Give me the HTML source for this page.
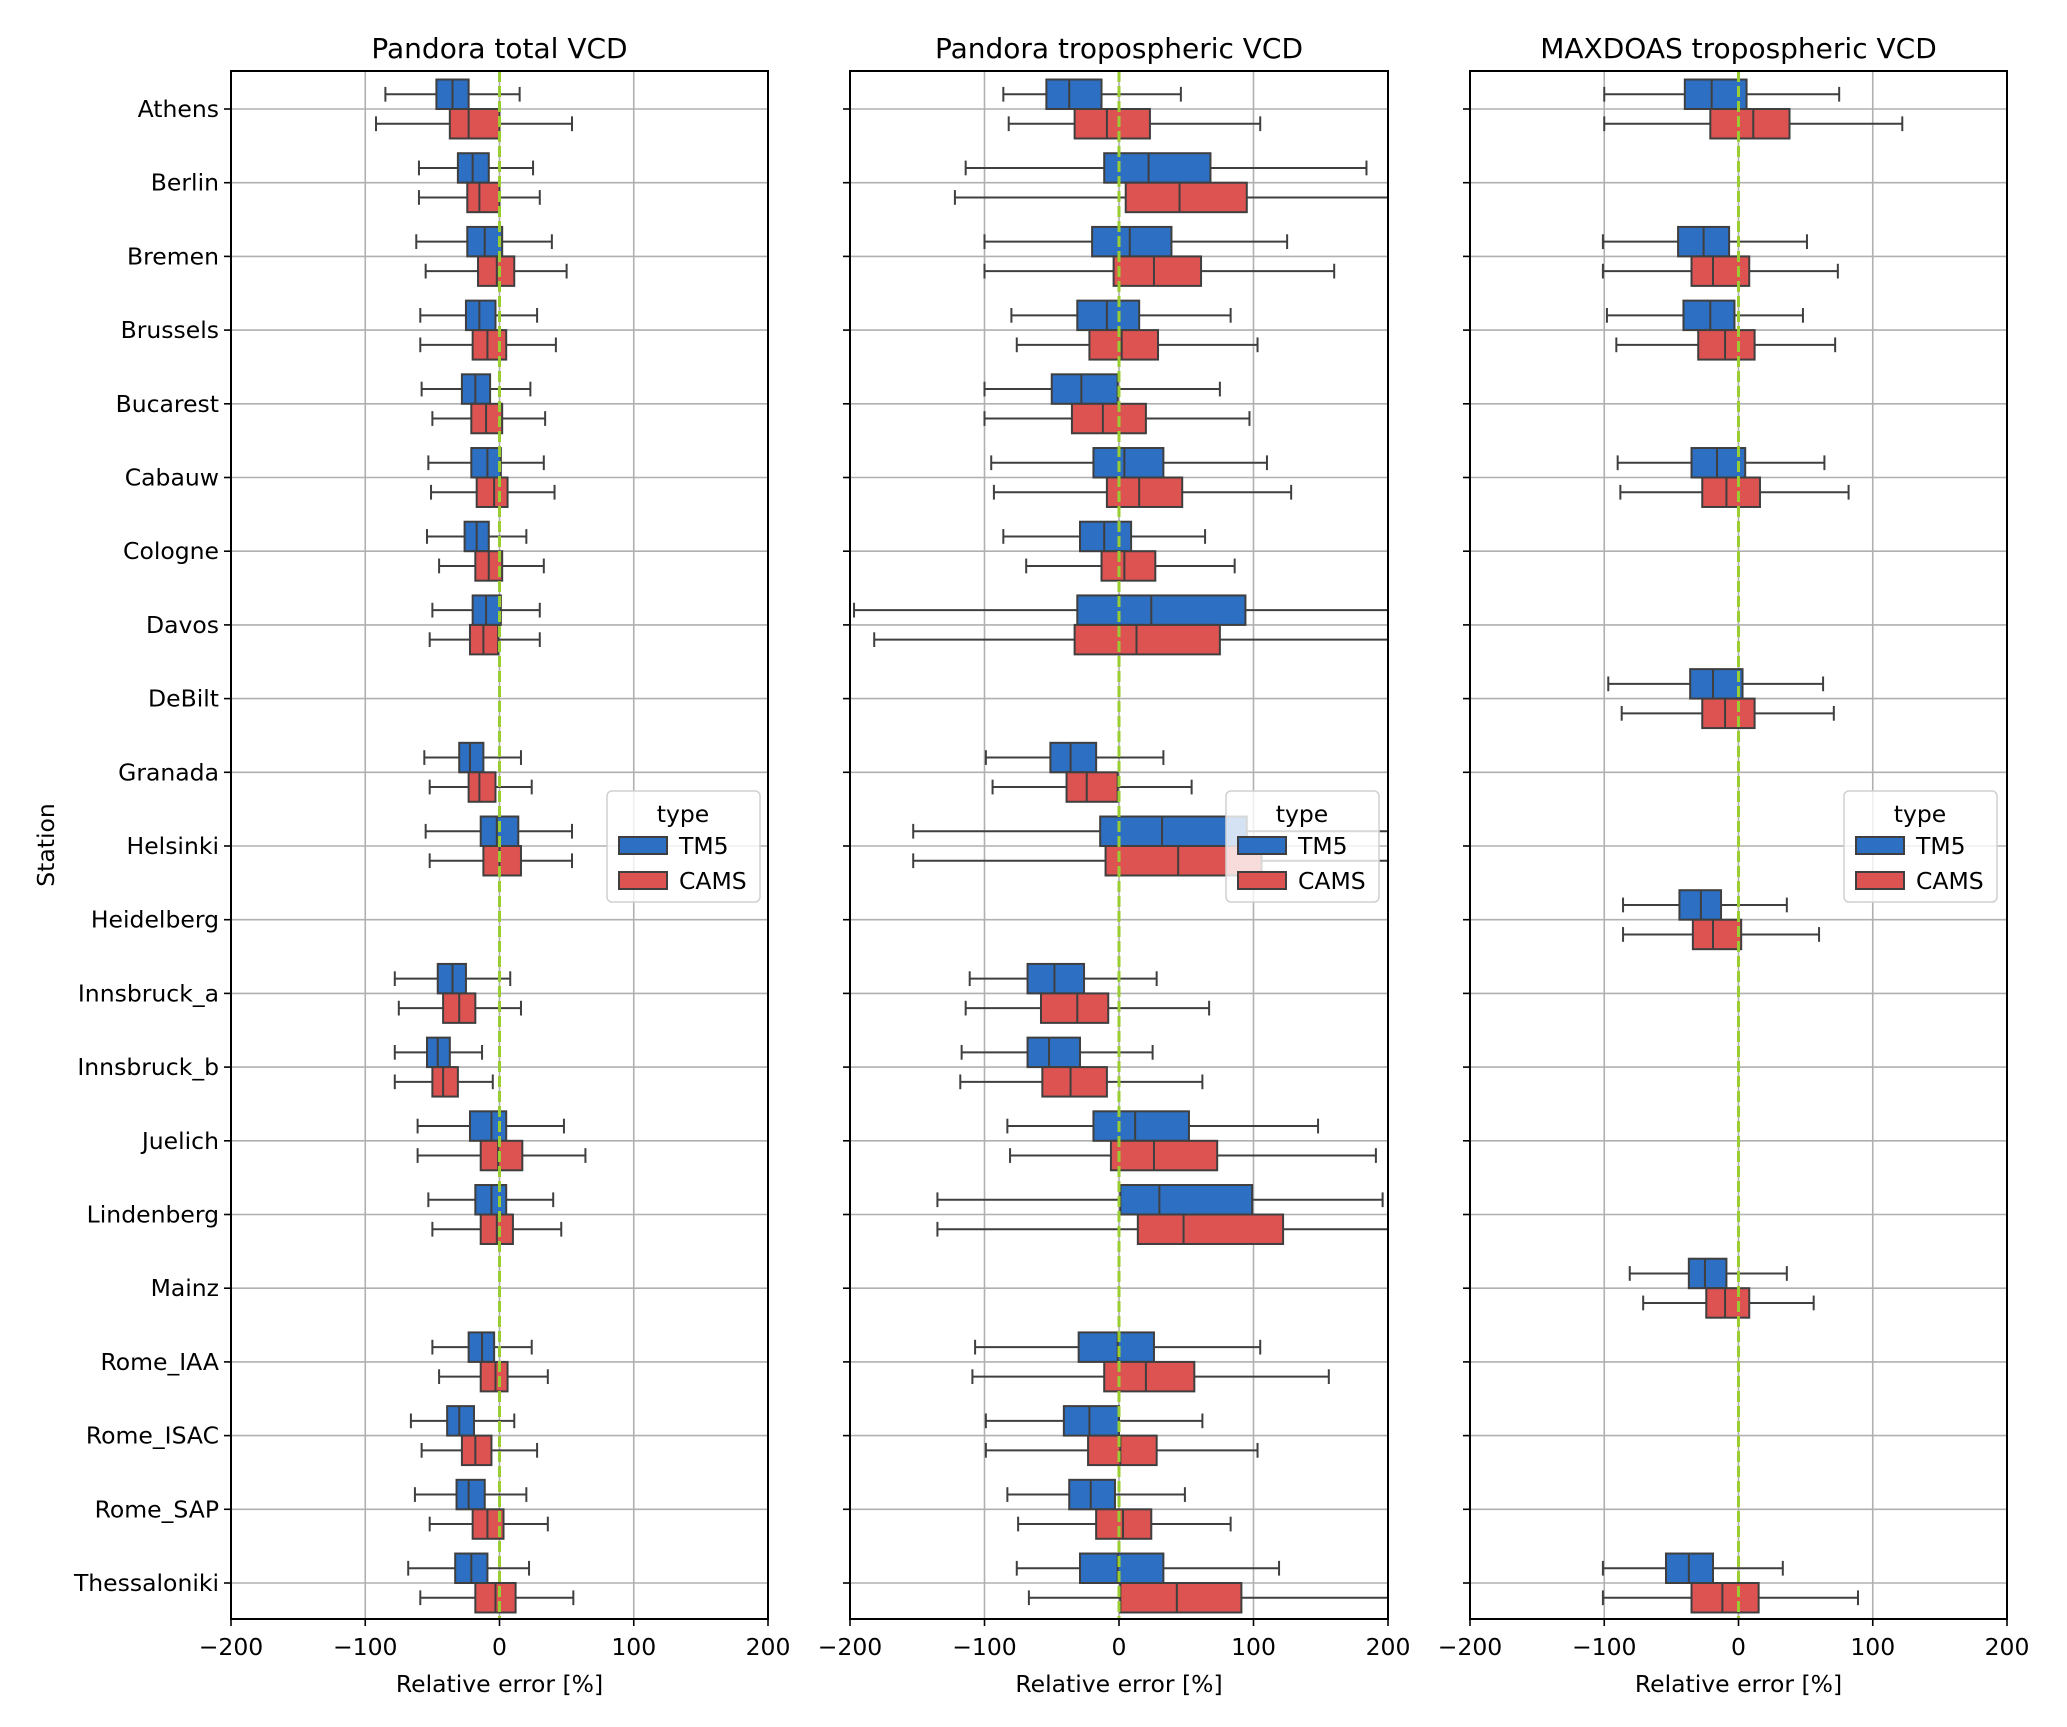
<!DOCTYPE html>
<html><head><meta charset="utf-8"><style>
html,body{margin:0;padding:0;background:#fff;}
svg{display:block;font-family:"DejaVu Sans","Liberation Sans",sans-serif;}
</style></head><body>
<svg id="chart" width="2067" height="1727" viewBox="0 0 2067 1727" xmlns="http://www.w3.org/2000/svg"></svg>
<script>
const stations=["Athens","Berlin","Bremen","Brussels","Bucarest","Cabauw","Cologne","Davos","DeBilt","Granada","Helsinki","Heidelberg","Innsbruck_a","Innsbruck_b","Juelich","Lindenberg","Mainz","Rome_IAA","Rome_ISAC","Rome_SAP","Thessaloniki"];
const panelTitles=["Pandora total VCD","Pandora tropospheric VCD","MAXDOAS tropospheric VCD"];
const xTicks=[-200,-100,0,100,200];
const xTickLabels=["\u2212200","\u2212100","0","100","200"];
// [whiskerLow, q1, median, q3, whiskerHigh]
const p1TM5=[[-85,-47,-35,-23,15],[-60,-31,-20,-8,25],[-62,-24,-11,2,39],[-59,-25,-15,-3,28],[-58,-28,-18,-7,23],[-53,-21,-9,1,33],[-54,-26,-17,-8,20],[-50,-20,-10,1,30],null,[-56,-30,-22,-12,16],[-55,-14,-2,14,54],null,[-78,-46,-35,-25,8],[-78,-54,-46,-37,-13],[-61,-22,-6,5,48],[-53,-18,-6,5,40],null,[-50,-23,-13,-4,24],[-66,-39,-30,-19,11],[-63,-32,-23,-11,20],[-68,-33,-21,-9,22]];
const p1CAMS=[[-92,-37,-23,0,54],[-60,-24,-15,0,30],[-55,-16,-2,11,50],[-59,-20,-9,5,42],[-50,-21,-10,2,34],[-51,-17,-4,6,41],[-45,-18,-8,2,33],[-52,-22,-12,-1,30],null,[-52,-23,-15,-3,24],[-52,-12,0,16,54],null,[-75,-42,-30,-18,16],[-78,-50,-42,-31,-5],[-61,-14,-1,17,64],[-50,-14,-2,10,46],null,[-45,-14,-3,6,36],[-58,-28,-18,-6,28],[-52,-20,-9,3,36],[-59,-18,-3,12,55]];
const p2TM5=[[-86,-54,-37,-13,46],[-114,-11,22,68,184],[-100,-20,8,39,125],[-80,-31,-9,15,83],[-100,-50,-28,-1,75],[-95,-19,4,33,110],[-86,-29,-11,9,64],[-197,-31,24,94,220],null,[-99,-51,-36,-17,33],[-153,-14,32,95,230],null,[-111,-68,-48,-26,28],[-117,-68,-52,-29,25],[-83,-19,12,52,148],[-135,1,30,99,196],null,[-107,-30,-1,26,105],[-99,-41,-22,0,62],[-83,-37,-21,-3,49],[-76,-29,-1,33,119]];
const p2CAMS=[[-82,-33,-9,23,105],[-122,5,45,95,210],[-100,-4,26,61,160],[-76,-22,2,29,103],[-100,-35,-12,20,97],[-93,-9,15,47,128],[-69,-13,4,27,86],[-182,-33,13,75,230],null,[-94,-39,-24,-1,54],[-153,-10,44,106,230],null,[-114,-58,-31,-8,67],[-118,-57,-36,-9,62],[-81,-6,26,73,191],[-135,14,48,122,240],null,[-109,-11,20,56,156],[-99,-23,1,28,103],[-75,-17,3,24,83],[-67,1,43,91,240]];
const p3TM5=[[-100,-40,-20,6,75],null,[-101,-45,-26,-7,51],[-98,-41,-21,-3,48],null,[-90,-35,-16,5,64],null,null,[-97,-36,-19,3,63],null,null,[-86,-44,-28,-13,36],null,null,null,null,[-81,-37,-25,-9,36],null,null,null,[-101,-54,-37,-19,33]];
const p3CAMS=[[-100,-21,11,38,122],null,[-101,-35,-19,8,74],[-91,-30,-10,12,72],null,[-88,-27,-9,16,82],null,null,[-87,-27,-10,12,71],null,null,[-86,-34,-19,2,60],null,null,null,null,[-71,-24,-10,8,56],null,null,null,[-101,-35,-12,15,89]];
const seriesNames=["TM5","CAMS"];

const NS="http://www.w3.org/2000/svg";
const svg=document.getElementById('chart');
const colors=["#2d6fc2","#dc5352"];
const edge="#3f3f3f";
const panels=[{x0:231,x1:768,tm:p1TM5,cams:p1CAMS,legX:607},{x0:850,x1:1388,tm:p2TM5,cams:p2CAMS,legX:1226},{x0:1470,x1:2007,tm:p3TM5,cams:p3CAMS,legX:1844}];
const yTop=71,yBot=1619;
const catY0=109,catStep=(1583-109)/20;
function yScale(i){return catY0+i*catStep;}
function mk(tag,attrs,parent){const e=document.createElementNS(NS,tag);for(const k in attrs)e.setAttribute(k,attrs[k]);(parent||svg).appendChild(e);return e;}

const defs=mk('defs',{});
panels.forEach((p,pi)=>{
  const xs=v=>p.x0+(v+200)/400*(p.x1-p.x0);
  const g=mk('g',{});
  
  
  const cp=mk('clipPath',{id:'clip'+pi},defs);
  mk('rect',{x:p.x0,y:yTop,width:p.x1-p.x0,height:yBot-yTop},cp);
  xTicks.forEach(t=>{const l=mk('line',{x1:xs(t),x2:xs(t),y1:yTop,y2:yBot,stroke:'#b0b0b0','stroke-width':1.6},g);
    });
  stations.forEach((s,i)=>{const l=mk('line',{x1:p.x0,x2:p.x1,y1:yScale(i),y2:yScale(i),stroke:'#b0b0b0','stroke-width':1.6},g);
    });
  const bg=mk('g',{'clip-path':'url(#clip'+pi+')'},g);
  [p.tm,p.cams].forEach((ser,si)=>{
    ser.forEach((d,i)=>{
      if(!d)return;
      const yc=yScale(i)+(si===0?-0.2:0.2)*catStep;
      const h=0.4*catStep;
      const bx=mk('g',{},bg);
      
      
      mk('line',{x1:xs(d[0]),x2:xs(d[1]),y1:yc,y2:yc,stroke:edge,'stroke-width':2},bx);
      mk('line',{x1:xs(d[3]),x2:xs(d[4]),y1:yc,y2:yc,stroke:edge,'stroke-width':2},bx);
      mk('line',{x1:xs(d[0]),x2:xs(d[0]),y1:yc-h/4,y2:yc+h/4,stroke:edge,'stroke-width':2},bx);
      mk('line',{x1:xs(d[4]),x2:xs(d[4]),y1:yc-h/4,y2:yc+h/4,stroke:edge,'stroke-width':2},bx);
      mk('rect',{x:xs(d[1]),y:yc-h/2,width:xs(d[3])-xs(d[1]),height:h,fill:colors[si],stroke:edge,'stroke-width':2},bx);
      mk('line',{x1:xs(d[2]),x2:xs(d[2]),y1:yc-h/2,y2:yc+h/2,stroke:edge,'stroke-width':2},bx);
    });
  });
  const zl=mk('line',{x1:xs(0),x2:xs(0),y1:yTop,y2:yBot,stroke:'#9acd32','stroke-width':3,'stroke-dasharray':'11,4'},g);
  
  const fr=mk('rect',{x:p.x0,y:yTop,width:p.x1-p.x0,height:yBot-yTop,fill:'none',stroke:'#000','stroke-width':2},g);
  
  xTicks.forEach((t,k)=>{mk('line',{x1:xs(t),x2:xs(t),y1:yBot,y2:yBot+7,stroke:'#000','stroke-width':1.6},g);
    const tx=mk('text',{x:xs(t),y:1655,'text-anchor':'middle','font-size':23.5},g);tx.textContent=xTickLabels[k];
    });
  stations.forEach((s,i)=>{mk('line',{x1:p.x0-7,x2:p.x0,y1:yScale(i),y2:yScale(i),stroke:'#000','stroke-width':1.6},g);
    if(pi===0){const tx=mk('text',{x:p.x0-12,y:yScale(i)+8,'text-anchor':'end','font-size':23.5},g);tx.textContent=s;
      }});
  const ti=mk('text',{x:(p.x0+p.x1)/2,y:58,'text-anchor':'middle','font-size':28},g);ti.textContent=panelTitles[pi];
  
  const xl=mk('text',{x:(p.x0+p.x1)/2,y:1692,'text-anchor':'middle','font-size':23.5},g);xl.textContent="Relative error [%]";
  
  const lg=mk('g',{},g);
  
  mk('rect',{x:p.legX,y:791,width:153,height:111,rx:5,fill:'#fff','fill-opacity':0.8,stroke:'#d0d0d0','stroke-width':1.5},lg);
  const lt=mk('text',{x:p.legX+76,y:822,'text-anchor':'middle','font-size':23.5},lg);lt.textContent="type";
  seriesNames.forEach((n,si)=>{
    const ey=837+si*35;
    const le=mk('g',{},lg);
    
    mk('rect',{x:p.legX+12,y:ey,width:48,height:17,fill:colors[si],stroke:edge,'stroke-width':2},le);
    const tt=mk('text',{x:p.legX+72,y:ey+17,'font-size':23.5},le);tt.textContent=n;
  });
});
const yl=mk('text',{x:0,y:0,'text-anchor':'middle','font-size':23.5,transform:'translate(54,845) rotate(-90)'});
yl.textContent="Station";

</script>
</body></html>
